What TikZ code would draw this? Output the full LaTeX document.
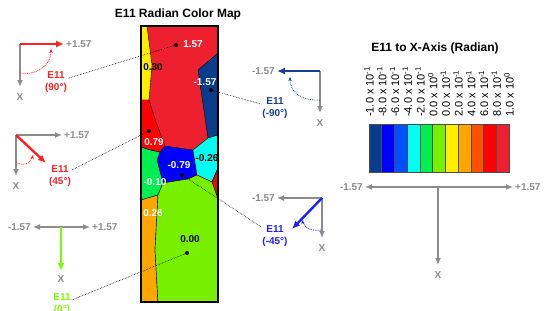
\documentclass[tikz,border=0pt]{standalone}
\usepackage{fontspec}
\setmainfont{Liberation Sans}
\usetikzlibrary{positioning,arrows.meta,calc}
\definecolor{cNavy}{HTML}{0A3C8C}
\definecolor{cBlue}{HTML}{0000FF}
\definecolor{cMidBlue}{HTML}{0050FF}
\definecolor{cCyan}{HTML}{00FFEE}
\definecolor{cGreen}{HTML}{00EE50}
\definecolor{cLime}{HTML}{77F000}
\definecolor{cYellow}{HTML}{FFEE00}
\definecolor{cOrange}{HTML}{FFA500}
\definecolor{cOrRed}{HTML}{FF5000}
\definecolor{cRed}{HTML}{FF0000}
\definecolor{cPink}{HTML}{EE2030}
\definecolor{axisgray}{HTML}{8C8C8C}
\definecolor{eRed}{HTML}{FF2020}
\definecolor{eGreen}{HTML}{7CFC00}
\definecolor{eNavy}{HTML}{1A3E9A}
\definecolor{eBlue}{HTML}{1F1FFF}
\newcommand{\tenpow}[1]{x 10\textsuperscript{#1}}

\begin{document}
\begin{tikzpicture}[>=Latex,x=1pt,y=-1pt,font=\fontsize{10}{11.5}\selectfont\bfseries,node distance=1pt]
\tikzstyle{axis}=[draw=axisgray,line width=2pt,-{Latex[length=7pt,width=6pt]}]
\tikzstyle{evec}=[line width=2.4pt,-{Latex[length=8pt,width=7pt]}]
\tikzstyle{swing}=[densely dotted,line width=0.8pt,-{Stealth[length=4pt,width=3.5pt]}]
\tikzstyle{axlab}=[text=axisgray,inner sep=1pt]
\tikzstyle{elab}=[align=center,inner sep=1pt]
\tikzstyle{val}=[inner sep=0.5pt]
\tikzstyle{dot}=[circle,fill=black,inner sep=0pt,minimum size=4pt]
\tikzstyle{leader}=[densely dotted,line width=0.6pt]
\tikzstyle{region}=[draw=black,line width=0.4pt]
\tikzstyle{cbarlab}=[rotate=90,anchor=west,inner sep=0pt,font=\fontsize{11}{12}\selectfont]

\useasboundingbox (0,0) rectangle (550,311);

\node (maptitle) at (178,14) {\fontsize{12}{13}\selectfont E11 Radian Color Map};
\node (bartitle) at (435,48) {\fontsize{12}{13}\selectfont E11 to X-Axis (Radian)};

\fill[cPink] (141,26) rectangle (218,302);
\filldraw[region,fill=cYellow] (141,26) -- (147,26) -- (152,65) -- (149,100) -- (141,100) -- cycle;
\filldraw[region,fill=cNavy] (218,53) -- (198,70) -- (202,97) -- (208,138) -- (218,135) -- cycle;
\filldraw[region,fill=cRed] (141,100) -- (149,100) -- (156,122) -- (165,146) -- (160,152) -- (150,150) -- (141,147) -- cycle;
\filldraw[region,fill=cBlue] (165,146) -- (193,150) -- (197,175) -- (188,179) -- (163,183) -- (157,160) -- (160,152) -- cycle;
\filldraw[region,fill=cCyan] (193,150) -- (208,138) -- (218,135) -- (218,168) -- (212,182) -- (197,175) -- cycle;
\filldraw[region,fill=cRed] (218,168) -- (212,182) -- (218,199) -- cycle;
\filldraw[region,fill=cGreen] (141,147) -- (150,150) -- (160,152) -- (157,160) -- (163,183) -- (158,195) -- (141,200) -- cycle;
\filldraw[region,fill=cOrange] (141,200) -- (158,195) -- (155,250) -- (158,302) -- (141,302) -- cycle;
\filldraw[region,fill=cLime] (158,195) -- (163,183) -- (188,179) -- (197,175) -- (212,182) -- (218,199) -- (218,302) -- (158,302) -- (155,250) -- cycle;
\draw[line width=2.2pt] (141,26) rectangle (218,302);

\node[val,text=white] (v157) at (193,44) {1.57};
\node[val] (v030) at (153,67) {0.30};
\node[val,text=white] (vm157) at (205,82) {-1.57};
\node[val,text=white] (v079) at (154,142) {0.79};
\node[val,text=white] (vm079) at (179,165) {-0.79};
\node[val] (vm026) at (207,158) {-0.26};
\node[val,text=white] (vm010) at (155,182) {-0.10};
\node[val,text=white] (v026) at (153,213) {0.26};
\node[val] (v000) at (190,239) {0.00};

\node[dot] (d157) at (176,45) {};
\node[dot] (dm157) at (211,90) {};
\node[dot] (d079) at (149,131) {};
\node[dot] (dm079) at (182,175) {};
\node[dot] (d000) at (187,253) {};

\coordinate (o1) at (20,44);
\coordinate (h1) at (64,44);
\coordinate (v1) at (20,87);
\draw[axis] (o1) -- (v1);
\draw[evec,eRed] (o1) -- (h1);
\node[axlab,right=1pt of h1] (p1) {+1.57};
\node[axlab,below=5pt of v1] (x1) {X};
\coordinate (a1s) at (20,73);
\coordinate (a1e) at (51,49);
\draw[swing,eRed] (a1s) .. controls (38,76) and (51,64) .. (a1e);
\node[elab,text=eRed] (l1) at (56,82) {E11\\(90°)};

\coordinate (o2) at (16,135);
\coordinate (h2) at (62,135);
\coordinate (v2) at (16,176);
\coordinate (d2) at (46,163);
\draw[axis] (o2) -- (h2);
\draw[axis] (o2) -- (v2);
\draw[evec,eRed] (o2) -- (d2);
\node[axlab,right=1pt of h2] (p2) {+1.57};
\node[axlab,below=5pt of v2] (x2) {X};
\coordinate (a2s) at (16,162);
\coordinate (a2e) at (33,155);
\draw[swing,eRed] (a2s) .. controls (23,167) and (31,163) .. (a2e);
\node[elab,text=eRed] (l2) at (60,176) {E11\\(45°)};

\coordinate (o3) at (61,227);
\coordinate (w3) at (33,227);
\coordinate (e3) at (90,227);
\coordinate (s3) at (61,271);
\draw[axis,{Latex[length=7pt,width=6pt]}-{Latex[length=7pt,width=6pt]}] (w3) -- (e3);
\draw[evec,eGreen] (o3) -- (s3);
\node[axlab,left=1pt of w3] (m3) {-1.57};
\node[axlab,right=1pt of e3] (p3) {+1.57};
\node[axlab,below=3pt of s3] (x3) {X};
\node[elab,text=eGreen] (l3) at (62,304) {E11\\(0°)};

\coordinate (o4) at (320,71);
\coordinate (h4) at (277,71);
\coordinate (v4) at (320,113);
\draw[axis] (o4) -- (v4);
\draw[evec,eNavy] (o4) -- (h4);
\node[axlab,left=1pt of h4] (m4) {-1.57};
\node[axlab,below=5pt of v4] (x4) {X};
\coordinate (a4s) at (320,100);
\coordinate (a4e) at (290,77);
\draw[swing,eNavy] (a4s) .. controls (300,101) and (290,91) .. (a4e);
\node[elab,text=eNavy] (l4) at (275,108) {E11\\(-90°)};

\coordinate (o5) at (322,198);
\coordinate (h5) at (277,198);
\coordinate (v5) at (322,238);
\coordinate (d5) at (292,229);
\draw[axis] (o5) -- (h5);
\draw[axis] (o5) -- (v5);
\draw[evec,eBlue] (o5) -- (d5);
\node[axlab,left=1pt of h5] (m5) {-1.57};
\node[axlab,below=5pt of v5] (x5) {X};
\coordinate (a5s) at (321,230);
\coordinate (a5e) at (302,220);
\draw[swing,eBlue] (a5s) .. controls (312,232) and (304,227) .. (a5e);
\node[elab,text=eBlue] (l5) at (275,236) {E11\\(-45°)};

\coordinate (o6) at (438,187);
\coordinate (w6) at (365,187);
\coordinate (e6) at (513,187);
\coordinate (s6) at (438,265);
\draw[axis,{Latex[length=7pt,width=6pt]}-{Latex[length=7pt,width=6pt]}] (w6) -- (e6);
\draw[axis] (o6) -- (s6);
\node[axlab,left=1pt of w6] (m6) {-1.57};
\node[axlab,right=1pt of e6] (p6) {+1.57};
\node[axlab,below=5pt of s6] (x6) {X};

\draw[leader] (d157) -- (l1);
\draw[leader] (d079) -- (l2);
\draw[leader] (d000) -- (l3);
\draw[leader] (dm157) -- (l4);
\draw[leader] (dm079) -- (l5);

\foreach \c [count=\i] in {cNavy,cBlue,cMidBlue,cCyan,cGreen,cLime,cYellow,cOrange,cOrRed,cRed,cPink}
  \filldraw[draw=black!70,line width=0.5pt,fill=\c] ({369+(\i-1)*12.73},124) rectangle ++(12.73,48);
\foreach \lab [count=\i] in {-1.0 \tenpow{-1},-8.0 \tenpow{-1},-6.0 \tenpow{-1},-4.0 \tenpow{-1},-2.0 \tenpow{-1},0.0 \tenpow{0},0.0 \tenpow{-1},2.0 \tenpow{-1},4.0 \tenpow{-1},6.0 \tenpow{-1},8.0 \tenpow{-1},1.0 \tenpow{0}}
  \node[cbarlab] (cl\i) at ({369+(\i-1)*12.73},117) {\lab};
\end{tikzpicture}
\end{document}
